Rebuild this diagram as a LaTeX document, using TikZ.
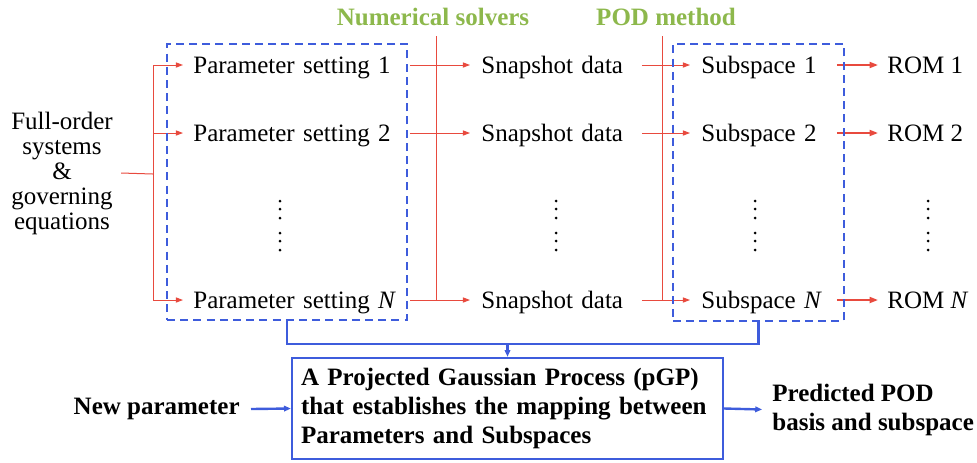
\documentclass[tikz,border=0pt]{standalone}
\usepackage{fontspec}
\setmainfont{Liberation Serif}
\usetikzlibrary{arrows.meta}
\definecolor{flowred}{RGB}{232,74,62}
\definecolor{flowblue}{RGB}{62,92,220}
\definecolor{flowgreen}{RGB}{141,184,76}

\begin{document}
\begin{tikzpicture}[x=0.5pt,y=-0.5pt,
	font=\fontsize{12.5}{14.5}\selectfont,
	redline/.style={line width=0.5pt,color=flowred},
	redarrow/.style={redline,-{Triangle[length=3.6pt,width=2.6pt]}},
	romarrow/.style={line width=0.9pt,color=flowred,-{Triangle[length=4.2pt,width=3pt]}},
	blueline/.style={line width=1.2pt,color=flowblue},
	bluearrow/.style={blueline,-{Triangle[length=3.4pt,width=2.8pt]}},
	dashbox/.style={draw=flowblue,line width=1.2pt,dash pattern=on 4pt off 2.6pt,inner sep=0pt},
	heading/.style={font=\fontsize{12.5}{14.5}\selectfont\bfseries,color=flowgreen},
	rowtext/.style={anchor=west,align=left,inner xsep=5.5pt,inner ysep=0pt,text height=10pt,text depth=2pt}]

	\useasboundingbox (0,0) rectangle (977,462);

	% headings over the two steps

	\node[heading] (solvers) at (433,17) {Numerical solvers};
	\node[heading] (podmethod) at (666,17) {POD method};

	% input and the N rows

	\node[align=center,inner sep=4pt,font=\fontsize{12.5}{12.5}\selectfont] (full) at (62,173)
		{Full-order\\systems\\\&\\governing\\equations};

	\node[rowtext,text width=103pt,inner xsep=5pt] (p1) at (183,65) {Parameter setting 1};
	\node[rowtext,text width=103pt,inner xsep=5pt] (p2) at (183,133) {Parameter setting 2};
	\node[rowtext,text width=103pt,inner xsep=5pt] (pN) at (183,300) {Parameter setting \textit{N}};

	\node[rowtext,text width=74.5pt] (s1) at (470,65) {Snapshot data};
	\node[rowtext,text width=74.5pt] (s2) at (470,133) {Snapshot data};
	\node[rowtext,text width=74.5pt] (sN) at (470,300) {Snapshot data};

	\node[rowtext,text width=62pt] (u1) at (690,65) {Subspace 1};
	\node[rowtext,text width=62pt] (u2) at (690,133) {Subspace 2};
	\node[rowtext,text width=62pt] (uN) at (690,300) {Subspace \textit{N}};

	\node[rowtext,inner xsep=4.5pt] (r1) at (878,65) {ROM 1};
	\node[rowtext,inner xsep=4.5pt] (r2) at (878,133) {ROM 2};
	\node[rowtext,inner xsep=4.5pt] (rN) at (878,300) {ROM \textit{N}};

	% vertical dots

	\foreach \x in {280,556,755,928}
		\foreach \y in {201,209,218,233,241,250}
			\fill (\x,\y) circle (0.75pt);

	% red connectors

	\coordinate (branch) at (153,174);
	\coordinate (solvtop) at (436,36);
	\coordinate (podtop) at (662,36);

	\draw[redline] (full.east) -- (branch);
	\draw[redarrow] (branch) |- (p1.west);
	\draw[redarrow] (branch) |- (p2.west);
	\draw[redarrow] (branch) |- (pN.west);
	\draw[redline] (solvtop) -- (solvtop |- pN.east);
	\draw[redline] (podtop) -- (podtop |- sN.east);

	\draw[redarrow] (p1.east) -- (s1.west);
	\draw[redarrow] (p2.east) -- (s2.west);
	\draw[redarrow] (pN.east) -- (sN.west);
	\draw[redarrow] (s1.east) -- (u1.west);
	\draw[redarrow] (s2.east) -- (u2.west);
	\draw[redarrow] (sN.east) -- (uN.west);
	\draw[romarrow] (u1.east) -- (r1.west);
	\draw[romarrow] (u2.east) -- (r2.west);
	\draw[romarrow] (uN.east) -- (rN.west);

	% dashed groups

	\node[dashbox,minimum width=120pt,minimum height=138pt] (setbox) at (287,182) {};
	\node[dashbox,minimum width=85.5pt,minimum height=138.5pt] (subbox) at (758.5,182.5) {};

	% pGP box

	\node[draw=flowblue,line width=1.2pt,text width=206.5pt,minimum height=50.5pt,
		inner xsep=4.5pt,align=left,font=\fontsize{12.5}{14.5}\selectfont\bfseries] (pgp) at (507.5,408.5)
		{A Projected Gaussian Process (pGP)\\that establishes the mapping between\\Parameters and Subspaces};

	\node[anchor=east,inner xsep=5.5pt,font=\fontsize{12.5}{14.5}\selectfont\bfseries] (newpar) at (251,409) {New parameter};
	\node[anchor=west,align=left,inner xsep=5pt,font=\fontsize{12.5}{14.5}\selectfont\bfseries] (pred) at (762,409.5)
		{Predicted POD\\basis and subspace};

	\coordinate (join) at (pgp.north |- 0,344);
	\draw[blueline] (setbox.south) |- (join) -| (subbox.south);
	\draw[bluearrow] (join) -- (pgp.north);
	\draw[bluearrow] (newpar.east) -- (pgp.west);
	\draw[bluearrow] (pgp.east) -- (pred.west);

\end{tikzpicture}
\end{document}
